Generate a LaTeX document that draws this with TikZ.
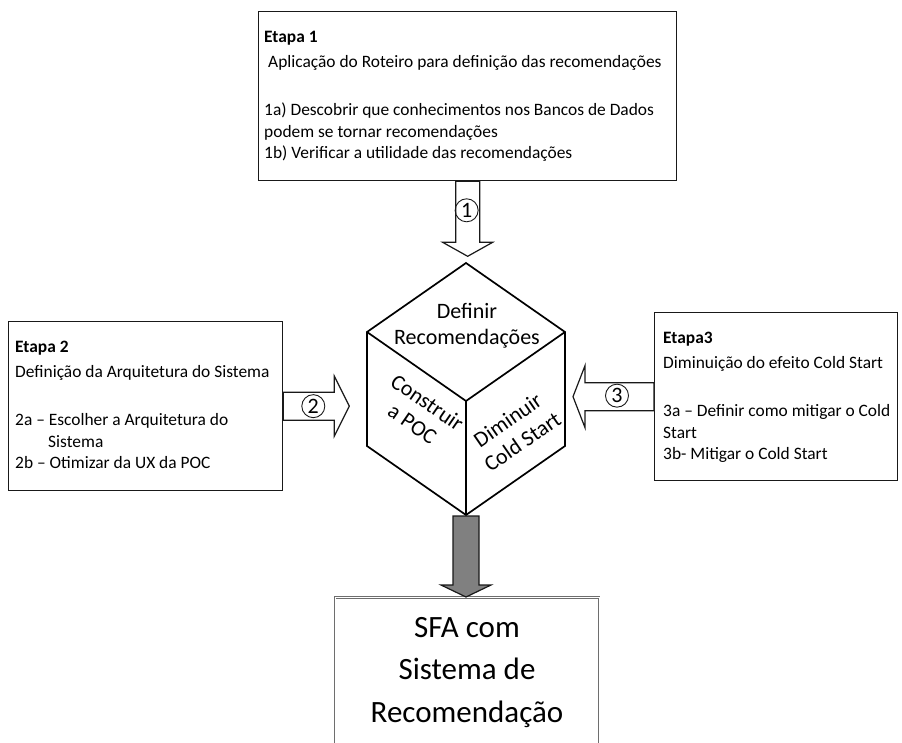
\documentclass[tikz,border=0pt]{standalone}
\usepackage{fontspec}
\setmainfont{Carlito}
\usepackage{tikz}
\usetikzlibrary{positioning, calc}
\definecolor{sfaline}{RGB}{25,25,25}
\definecolor{sfagray}{RGB}{128,128,128}
\definecolor{sfaframe}{RGB}{110,110,110}

\begin{document}
\begin{tikzpicture}[x=1pt, y=-1pt,
    stagebox/.style={rectangle, draw=sfaline, line width=1.3pt, fill=white,
        inner sep=0pt, anchor=north west},
    stagetext/.style={anchor=north west, inner sep=0pt, align=left,
        font=\fontsize{17.4}{21.5}\selectfont},
    facetext/.style={align=center, inner sep=0pt,
        font=\fontsize{22}{26}\selectfont},
    resultbox/.style={rectangle, draw=sfaframe, double=white, double distance=1pt,
        line width=0.9pt, minimum width=264pt, minimum height=150pt,
        align=center, font=\fontsize{31}{42.5}\selectfont},
    hollow/.style={draw=sfaline, line width=1.2pt, fill=white, line join=miter},
    filled/.style={draw=sfaline, line width=1.2pt, fill=sfagray, line join=miter},
    stepnum/.style={circle, draw=sfaline, line width=0.9pt, inner sep=0pt,
        minimum size=23pt, font=\fontsize{22}{22}\selectfont},
    cube/.style={draw=black, line width=1.7pt, line join=miter}
]
\clip (0,0) rectangle (902,742);

% stage boxes
\node[stagebox, minimum width=418pt, minimum height=169pt] (etapa1) at (258,11) {};
\node[stagebox, minimum width=274pt, minimum height=169pt] (etapa2) at (8,321) {};
\node[stagebox, minimum width=243pt, minimum height=168pt] (etapa3) at (654,312) {};

\node[stagetext] (etapa1txt) at ($(etapa1.north west)+(6,20)$)
    {\textbf{Etapa 1}\\[3.5pt]
     \hspace*{4pt}Aplicação do Roteiro para definição das recomendações\\[26.5pt]
     1a) Descobrir que conhecimentos nos Bancos de Dados\\
     podem se tornar recomendações\\
     1b) Verificar a utilidade das recomendações};
\node[stagetext] (etapa2txt) at ($(etapa2.north west)+(7,20)$)
    {\textbf{Etapa 2}\\[3.5pt]
     Definição da Arquitetura do Sistema\\[26.5pt]
     2a – Escolher a Arquitetura do\\
     \hspace*{33pt}Sistema\\
     2b – Otimizar da UX da POC};
\node[stagetext] (etapa3txt) at ($(etapa3.north west)+(9,20)$)
    {\textbf{Etapa3}\\[3.5pt]
     Diminuição do efeito Cold Start\\[26.5pt]
     3a – Definir como mitigar o Cold\\
     Start\\
     3b- Mitigar o Cold Start};

% cube
\coordinate (ctop)    at (466,263);
\coordinate (cleft)   at (367,332);
\coordinate (cright)  at (565,332);
\coordinate (cmid)    at (466,401);
\coordinate (cleftb)  at (367,446);
\coordinate (crightb) at (565,446);
\coordinate (cbot)    at (466,515);
\draw[cube] (ctop) -- (cright) -- (crightb) -- (cbot) -- (cleftb) -- (cleft) -- cycle;
\draw[cube] (cleft) -- (cmid) -- (cright) (cmid) -- (cbot);

\node[facetext] (definir) at (467,326) {Definir\\Recomendações};
\node[facetext, rotate=-34.6] (construir) at (420,413) {Construir\\a POC};
\node[facetext, rotate=34.6] (diminuir) at (515,431) {Diminuir\\Cold Start};

% result
\node[resultbox, anchor=north] (sfa) at (467,597) {SFA com\\Sistema de\\Recomendação};

% block arrows
\draw[hollow] ($(etapa1.south)+(-12,0)$) -- ++(0,61) -- ++(-13,0) -- ++(25,14)
    -- ++(25,-14) -- ++(-13,0) -- ++(0,-61) -- cycle;
\draw[hollow] ($(etapa2.east)+(0,-14)$) -- ++(51,0) -- ++(0,-16) -- ++(15,30)
    -- ++(-15,30) -- ++(0,-16) -- ++(-51,0) -- cycle;
\draw[hollow] ($(etapa3.west)+(0,-14)$) -- ++(-69,0) -- ++(0,-17) -- ++(-12,31)
    -- ++(12,31) -- ++(0,-17) -- ++(69,0) -- cycle;
\draw[filled] ($(cbot)+(-13,1)$) -- ++(0,69) -- ++(-12,0) -- ++(25,12)
    -- ++(25,-12) -- ++(-12,0) -- ++(0,-69) -- cycle;

\node[stepnum] (num1) at ($(etapa1.south)+(-1,29)$) {1};
\node[stepnum] (num2) at ($(etapa2.east)+(30,0)$) {2};
\node[stepnum] (num3) at ($(etapa3.west)+(-37,-1)$) {3};
\end{tikzpicture}
\end{document}
